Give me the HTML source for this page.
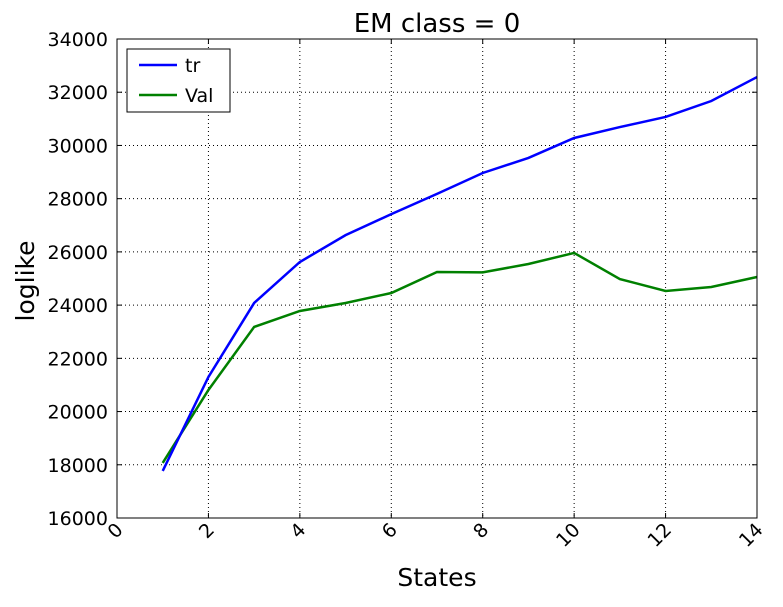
<!DOCTYPE html>
<html><head><meta charset="utf-8"><style>
body{margin:0;background:#fff;}
svg text{font-family:"DejaVu Sans","Liberation Sans",sans-serif;fill:#000;}
</style></head><body>
<svg id="chart" width="783" height="602" xmlns="http://www.w3.org/2000/svg">
<rect width="783" height="602" fill="#fff"/>
<g id="grid"></g><g id="series"></g><g id="axes"></g>
<text x="437" y="32" font-size="26" text-anchor="middle">EM class = 0</text>
<text x="437" y="586" font-size="25" text-anchor="middle">States</text>
<text transform="translate(34,281) rotate(-90)" font-size="25" text-anchor="middle">loglike</text>
<g>
<rect x="127" y="49" width="103" height="63" fill="#fff" stroke="#000" stroke-width="1"/>
<g><line x1="139" y1="65" x2="177" y2="65" stroke="#0000ff" stroke-width="2.5"/><text x="185" y="72" font-size="19">tr</text></g>
<g><line x1="139" y1="95" x2="177" y2="95" stroke="#008000" stroke-width="2.5"/><text x="185" y="102" font-size="19">Val</text></g>
</g>
</svg>
<script>
const xValues=[1,2,3,4,5,6,7,8,9,10,11,12,13,14];
const trValues=[17770,21300,24080,25620,26630,27420,28180,28965,29530,30280,30690,31070,31670,32570];
const valValues=[18070,20810,23180,23780,24080,24455,25245,25230,25545,25960,24980,24530,24680,25057];
const xTicks=[0,2,4,6,8,10,12,14];
const yTicks=[16000,18000,20000,22000,24000,26000,28000,30000,32000,34000];
const L=117,R=757,T=39,B=518;
const sx=v=>L+(v-0)/(14-0)*(R-L);
const sy=v=>B-(v-16000)/(34000-16000)*(B-T);
const NS="http://www.w3.org/2000/svg";
function mk(t,a,p){const e=document.createElementNS(NS,t);for(const k in a)e.setAttribute(k,a[k]);p.appendChild(e);return e;}
const grid=document.getElementById('grid'),axes=document.getElementById('axes'),ser=document.getElementById('series');
xTicks.forEach(v=>{const x=sx(v);
 const g=mk('line',{x1:x,x2:x,y1:T,y2:B,stroke:'#000','stroke-dasharray':'1,3','stroke-width':1},grid);
 
 
 mk('line',{x1:x,x2:x,y1:B,y2:B-5,stroke:'#000'},axes);
 mk('line',{x1:x,x2:x,y1:T,y2:T+5,stroke:'#000'},axes);
 const ax=x+7,ay=B+13;
 const t=mk('text',{x:ax,y:ay,'font-size':19,'text-anchor':'end',transform:`rotate(-45 ${ax} ${ay})`},axes);
 t.textContent=v;
 
 
});
yTicks.forEach(v=>{const y=sy(v);
 const g=mk('line',{x1:L,x2:R,y1:y,y2:y,stroke:'#000','stroke-dasharray':'1,3','stroke-width':1},grid);
 
 
 mk('line',{x1:L,x2:L+5,y1:y,y2:y,stroke:'#000'},axes);
 mk('line',{x1:R,x2:R-5,y1:y,y2:y,stroke:'#000'},axes);
 const t=mk('text',{x:L-9,y:y+7,'font-size':19,'text-anchor':'end'},axes);
 t.textContent=v;
 
 
});
const frame=mk('rect',{x:L,y:T,width:R-L,height:B-T,fill:'none',stroke:'#000','stroke-width':1},axes);


function line(vals,color,name){
 const p=mk('polyline',{points:vals.map((v,i)=>sx(xValues[i])+','+sy(v)).join(' '),fill:'none',stroke:color,'stroke-width':2.5},ser);
 
 
}
line(valValues,'#008000','val-line');
line(trValues,'#0000ff','tr-line');
</script>
</body></html>
